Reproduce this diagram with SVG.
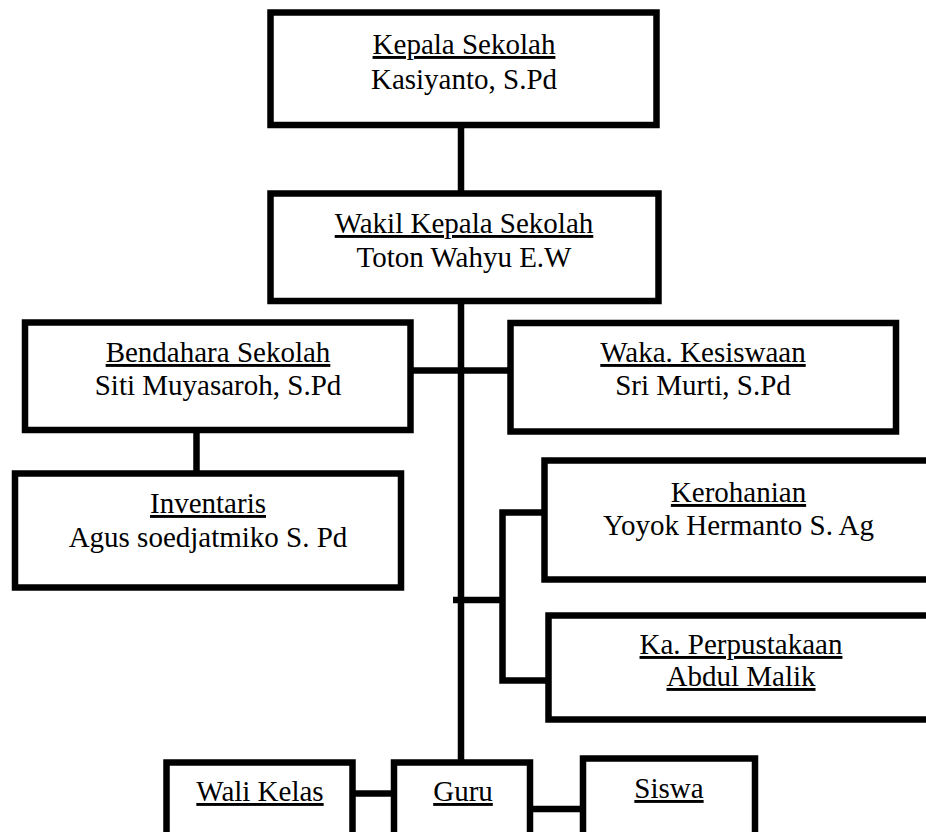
<svg xmlns="http://www.w3.org/2000/svg" width="926" height="832" viewBox="0 0 926 832">
<style>
.box{fill:#fff;stroke:#000;stroke-width:6.5}
.c{fill:none;stroke:#000;stroke-width:6.5;stroke-linejoin:miter;stroke-linecap:butt}
text{font-size:29px;fill:#000;text-anchor:middle}
.u{text-decoration:underline}
</style>
<rect width="926" height="832" fill="#fff"/>
<g id="connectors">
<path class="c" d="M461,125 V193.5"/>
<path class="c" d="M461,301 V762.5"/>
<path class="c" d="M410.5,370.5 H510.5"/>
<path class="c" d="M196.5,430 V473.5"/>
<path class="c" d="M453,600 H502.5"/>
<path class="c" d="M544.5,512.5 H502.5 V680.5 H548.5"/>
<path class="c" d="M352.5,793.5 H394"/>
<path class="c" d="M530,809 H583"/>
</g>
<g font-family="'Liberation Serif', 'Times New Roman', 'DejaVu Serif', serif">
<g id="kepala">
<rect class="box" x="270.5" y="12.5" width="386" height="112.5"/>
<text x="464" y="54" class="u">Kepala Sekolah</text>
<text x="464" y="89">Kasiyanto, S.Pd</text>
</g>
<g id="wakil">
<rect class="box" x="270.5" y="193.5" width="388" height="107.5"/>
<text x="464" y="233" class="u">Wakil Kepala Sekolah</text>
<text x="464" y="267">Toton Wahyu E.W</text>
</g>
<g id="bendahara">
<rect class="box" x="25" y="322.5" width="385.5" height="107.5"/>
<text x="218" y="362" class="u">Bendahara Sekolah</text>
<text x="218" y="395">Siti Muyasaroh, S.Pd</text>
</g>
<g id="kesiswaan">
<rect class="box" x="510.5" y="323" width="385.5" height="108.5"/>
<text x="703" y="362" class="u">Waka. Kesiswaan</text>
<text x="703" y="395">Sri Murti, S.Pd</text>
</g>
<g id="inventaris">
<rect class="box" x="15" y="473.5" width="386" height="114"/>
<text x="208" y="513" class="u">Inventaris</text>
<text x="208" y="547">Agus soedjatmiko S. Pd</text>
</g>
<g id="kerohanian">
<rect class="box" x="544.5" y="460.5" width="388" height="119"/>
<text x="738.5" y="502" class="u">Kerohanian</text>
<text x="738.5" y="535">Yoyok Hermanto S. Ag</text>
</g>
<g id="perpustakaan">
<rect class="box" x="548.5" y="615.5" width="386" height="104"/>
<text x="741" y="654" class="u">Ka. Perpustakaan</text>
<text x="741" y="686" class="u">Abdul Malik</text>
</g>
<g id="walikelas">
<rect class="box" x="166.5" y="762.5" width="186" height="90"/>
<text x="260" y="801" class="u">Wali Kelas</text>
</g>
<g id="guru">
<rect class="box" x="394" y="762.5" width="136" height="90"/>
<text x="463" y="801" class="u">Guru</text>
</g>
<g id="siswa">
<rect class="box" x="583" y="758.5" width="172" height="90"/>
<text x="669" y="798" class="u">Siswa</text>
</g>
</g>
</svg>
